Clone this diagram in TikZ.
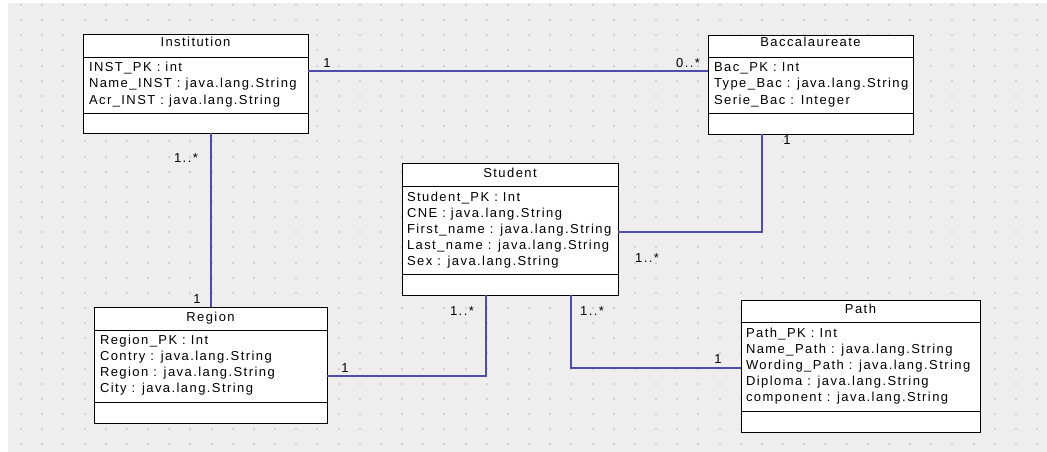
\documentclass[tikz,border=0pt]{standalone}
\usepackage{fontspec}
\setmainfont{Liberation Sans}[LetterSpace=11]
\usetikzlibrary{shadows,calc}
\definecolor{bggray}{RGB}{238,238,238}
\definecolor{dotgray}{RGB}{208,208,208}
\definecolor{assocblue}{RGB}{78,78,170}
\begin{document}
\begin{tikzpicture}[x=1pt,y=-1pt,
  every node/.style={font=\fontsize{13}{16}\selectfont, inner sep=0pt, outer sep=0pt},
  clsbox/.style={draw=black, line width=0.9pt, fill=white, anchor=north west,
    drop shadow={shadow xshift=1.3pt, shadow yshift=-1.3pt, fill=black!50, opacity=1}},
  sepline/.style={draw=black, line width=0.9pt},
  attr/.style={anchor=base west},
  titletext/.style={anchor=base},
  mult/.style={anchor=base},
  assoc/.style={draw=assocblue, line width=1.2pt}]
\useasboundingbox (0,0) rectangle (1047,452);
\fill[white] (0,0) rectangle (1047,452);
\fill[bggray] (8,3) rectangle (1047,452);
\foreach \i in {0,...,48}
  \foreach \j in {0,...,29}
    \fill[dotgray] ({20+21.17*\i},{4+15.15*\j}) rectangle ++(2,2);

% coordinates for connector routes
\coordinate (yIB) at (0,71);
\coordinate (xIR) at (211,0);
\coordinate (xBS) at (762,0);
\coordinate (yBS) at (0,232);
\coordinate (xSR) at (486,0);
\coordinate (ySR) at (0,376);
\coordinate (xSP) at (571,0);
\coordinate (ySP) at (0,368);

% classes
\node[clsbox, minimum width=225pt, minimum height=99pt] (inst) at (83,34) {};
\draw[sepline] ([yshift=-23pt]inst.north west) -- ([yshift=-23pt]inst.north east);
\draw[sepline] ([yshift=-79pt]inst.north west) -- ([yshift=-79pt]inst.north east);
\node[titletext] (inst-t) at (195.5,47) {Institution};
\foreach \t [count=\k from 0] in {INST\_PK : int, Name\_INST : java.lang.String, Acr\_INST : java.lang.String}
  \node[attr] (inst-a\k) at (89,{72+16*\k}) {\t};

\node[clsbox, minimum width=205pt, minimum height=99pt] (bac) at (708,35) {};
\draw[sepline] ([yshift=-22pt]bac.north west) -- ([yshift=-22pt]bac.north east);
\draw[sepline] ([yshift=-78pt]bac.north west) -- ([yshift=-78pt]bac.north east);
\node[titletext] (bac-t) at (810.5,47) {Baccalaureate};
\foreach \t [count=\k from 0] in {Bac\_PK : Int, Type\_Bac : java.lang.String, Serie\_Bac : Integer}
  \node[attr] (bac-a\k) at (714,{72+16*\k}) {\t};

\node[clsbox, minimum width=216pt, minimum height=132pt] (stu) at (402,163) {};
\draw[sepline] ([yshift=-23pt]stu.north west) -- ([yshift=-23pt]stu.north east);
\draw[sepline] ([yshift=-111pt]stu.north west) -- ([yshift=-111pt]stu.north east);
\node[titletext] (stu-t) at (510,177) {Student};
\foreach \t [count=\k from 0] in {Student\_PK : Int, CNE : java.lang.String, First\_name : java.lang.String, Last\_name : java.lang.String, Sex : java.lang.String}
  \node[attr] (stu-a\k) at (407,{201+16*\k}) {\t};

\node[clsbox, minimum width=233pt, minimum height=116pt] (reg) at (94,307) {};
\draw[sepline] ([yshift=-23pt]reg.north west) -- ([yshift=-23pt]reg.north east);
\draw[sepline] ([yshift=-95pt]reg.north west) -- ([yshift=-95pt]reg.north east);
\node[titletext] (reg-t) at (210.5,321) {Region};
\foreach \t [count=\k from 0] in {Region\_PK : Int, Contry : java.lang.String, Region : java.lang.String, City : java.lang.String}
  \node[attr] (reg-a\k) at (100,{344+16*\k}) {\t};

\node[clsbox, minimum width=239pt, minimum height=132pt] (pth) at (741,300) {};
\draw[sepline] ([yshift=-22pt]pth.north west) -- ([yshift=-22pt]pth.north east);
\draw[sepline] ([yshift=-111pt]pth.north west) -- ([yshift=-111pt]pth.north east);
\node[titletext] (pth-t) at (860.5,313) {Path};
\foreach \t [count=\k from 0] in {Path\_PK : Int, Name\_Path : java.lang.String, Wording\_Path : java.lang.String, Diploma : java.lang.String, component : java.lang.String}
  \node[attr] (pth-a\k) at (746,{337+16*\k}) {\t};

% associations
\draw[assoc] (inst.east |- yIB) -- (bac.west |- yIB);
\draw[assoc] (inst.south -| xIR) -- (reg.north -| xIR);
\draw[assoc] (bac.south -| xBS) |- (stu.east |- yBS);
\draw[assoc] (stu.south -| xSR) |- (reg.east |- ySR);
\draw[assoc] (stu.south -| xSP) |- (pth.west |- ySP);

% multiplicities
\node[mult] (m1) at (327,67) {1};
\node[mult] (m2) at (688,67) {0..*};
\node[mult] (m3) at (186,162) {1..*};
\node[mult] (m4) at (197,303) {1};
\node[mult] (m5) at (345,372) {1};
\node[mult] (m6) at (787,144) {1};
\node[mult] (m7) at (647,262) {1..*};
\node[mult] (m8) at (462,315) {1..*};
\node[mult] (m9) at (592,315) {1..*};
\node[mult] (m10) at (718,363) {1};
\end{tikzpicture}
\end{document}
